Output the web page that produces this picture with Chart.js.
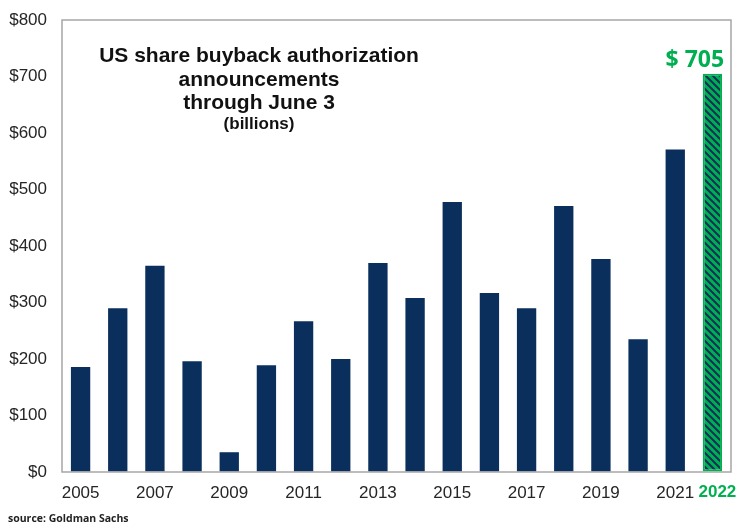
<!DOCTYPE html>
<html>
<head>
<meta charset="utf-8">
<script src="https://cdn.jsdelivr.net/npm/chart.js@4"></script>
<style>
  html, body { margin: 0; padding: 0; background: #fff; }
  #wrap { width: 743px; height: 532px; position: relative; }
</style>
</head>
<body>
<div id="wrap"><canvas id="bars"></canvas></div>
<script>
const years = ['2005','2006','2007','2008','2009','2010','2011','2012','2013','2014','2015','2016','2017','2018','2019','2020','2021','2022'];
const buybacks = [186, 290, 365, 196, 35, 189, 267, 200, 370, 308, 478, 317, 290, 471, 377, 235, 571, 705];
const shownYears = ['2005','2007','2009','2011','2013','2015','2017','2019','2021'];
const titleLines = ['US share buyback authorization', 'announcements', 'through June 3'];

const navy = '#0a2f5c';
const green = '#00b050';

// diagonal hatch for the 2022 bar
function makeHatch() {
  const n = 7;
  const c = document.createElement('canvas');
  c.width = n; c.height = n;
  const g = c.getContext('2d');
  g.fillStyle = green;
  g.fillRect(0, 0, n, n);
  g.strokeStyle = navy;
  g.lineWidth = 2.0;
  g.beginPath();
  for (let k = -1; k <= 1; k++) {
    g.moveTo(k * n - 1, -1);
    g.lineTo(k * n + n + 1, n + 1);
  }
  g.stroke();
  return g.createPattern(c, 'repeat');
}
const hatch = makeHatch();

const last = years.length - 1;
const barColors = years.map((y, i) => i === last ? hatch : navy);
const borderColors = years.map((y, i) => i === last ? green : navy);
const borderWidths = years.map((y, i) => i === last ? 2 : 0);

const extras = {
  id: 'extras',
  afterDraw(chart) {
    const ctx = chart.ctx;
    const a = chart.chartArea;
    ctx.save();
    // box around the plot
    ctx.strokeStyle = '#a6a6a6';
    ctx.lineWidth = 1.5;
    ctx.strokeRect(a.left, a.top, a.right - a.left, a.bottom - a.top);

    // title inside the plot
    ctx.fillStyle = '#111';
    ctx.textAlign = 'center';
    ctx.textBaseline = 'alphabetic';
    ctx.font = 'bold 21px "Liberation Sans", Arial, sans-serif';
    const cx = 259;
    ctx.fillText(titleLines[0], cx, 62);
    ctx.fillText(titleLines[1], cx, 86);
    ctx.fillText(titleLines[2], cx, 109);
    ctx.font = 'bold 17px "Liberation Sans", Arial, sans-serif';
    ctx.fillText('(billions)', cx, 129);

    // value label over the last bar
    const bar = chart.getDatasetMeta(0).data[last];
    ctx.fillStyle = green;
    ctx.font = 'bold 23px "Open Sans", sans-serif';
    ctx.textAlign = 'right';
    ctx.fillText('$ ' + buybacks[last], bar.x + bar.width / 2 + 2, 67);

    // highlighted year under the last bar
    ctx.font = 'bold 17px "Liberation Sans", Arial, sans-serif';
    ctx.textAlign = 'center';
    ctx.textBaseline = 'middle';
    ctx.fillText(years[last], chart.scales.x.getPixelForValue(last) + 5, 492);

    // source
    ctx.fillStyle = '#222';
    ctx.textAlign = 'left';
    ctx.font = 'bold 10.5px "Open Sans", sans-serif';
    ctx.fillText('source: Goldman Sachs', 8, 519);
    ctx.restore();
  }
};

new Chart(document.getElementById('bars'), {
  type: 'bar',
  data: {
    labels: years,
    datasets: [{
      data: buybacks,
      backgroundColor: barColors,
      borderColor: borderColors,
      borderWidth: borderWidths,
      borderSkipped: false,
      barPercentage: 0.52,
      categoryPercentage: 1.0
    }]
  },
  options: {
    responsive: true,
    maintainAspectRatio: false,
    animation: false,
    events: [],
    layout: { padding: { left: 0, right: 12, top: 20, bottom: 0 } },
    plugins: { legend: { display: false }, tooltip: { enabled: false } },
    scales: {
      x: {
        afterFit: s => { s.height = 60; },
        grid: { display: false, drawTicks: false },
        border: { display: false },
        ticks: {
          autoSkip: false,
          maxRotation: 0,
          padding: 11,
          color: '#262626',
          font: { family: '"Liberation Sans", Arial, sans-serif', size: 17 },
          callback: (v, i) => shownYears.includes(years[i]) ? years[i] : ''
        }
      },
      y: {
        min: 0,
        max: 800,
        afterFit: s => { s.width = 62; },
        grid: { color: 'transparent', tickColor: 'transparent', drawTicks: true, tickLength: 11 },
        border: { display: false },
        ticks: {
          stepSize: 100,
          padding: 4,
          color: '#262626',
          font: { family: '"Liberation Sans", Arial, sans-serif', size: 17 },
          callback: v => '$' + v
        }
      }
    }
  },
  plugins: [extras]
});
</script>
</body>
</html>
